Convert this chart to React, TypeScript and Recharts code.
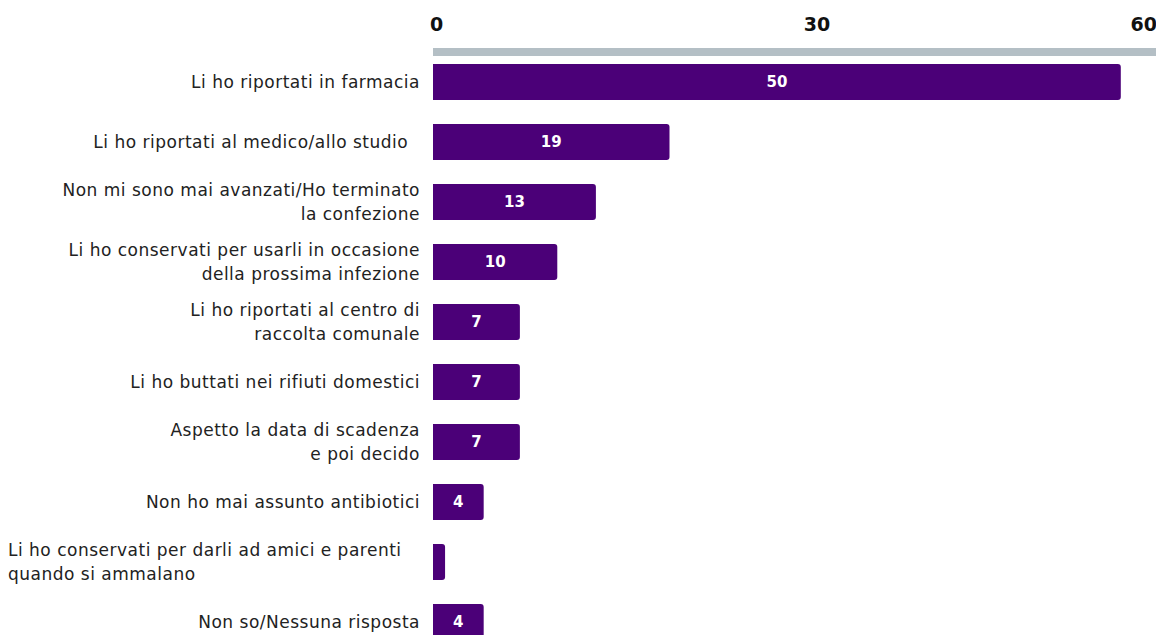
import { BarChart, Bar, XAxis, YAxis, LabelList } from "recharts";

const categories = [
  "Li ho riportati in farmacia",
  "Li ho riportati al medico/allo studio\u00a0\u00a0",
  "Non mi sono mai avanzati/Ho terminato\nla confezione",
  "Li ho conservati per usarli in occasione\ndella prossima infezione",
  "Li ho riportati al centro di\nraccolta comunale",
  "Li ho buttati nei rifiuti domestici",
  "Aspetto la data di scadenza\ne poi decido",
  "Non ho mai assunto antibiotici",
  "Li ho conservati per darli ad amici e parenti\nquando si ammalano",
  "Non so/Nessuna risposta",
];

// bar lengths as drawn (the printed labels differ slightly)
const barValues = [57, 19.6, 13.5, 10.3, 7.2, 7.2, 7.2, 4.2, 1, 4.2];
const valueLabels = ["50", "19", "13", "10", "7", "7", "7", "4", "", "4"];
const xTicks = [0, 30, 60];

const data = categories.map((name, i) => ({
  name,
  value: barValues[i],
  label: valueLabels[i],
}));

const BAR_COLOR = "#4B0078";
const LEFT_ALIGNED = new Set([8]);
const LABEL_FONT = "'DejaVu Sans', Verdana, sans-serif";

const CategoryTick = ({ x, y, payload, index }: any) => {
  const lines = String(payload.value).split("\n");
  const left = LEFT_ALIGNED.has(index);
  const tx = left ? 0 : x;
  return (
    <text
      x={tx}
      y={y}
      textAnchor={left ? "start" : "end"}
      fontFamily={LABEL_FONT}
      fontSize={17}
      letterSpacing={0.5}
      fill="#222"
    >
      {lines.map((line, i) => (
        <tspan key={i} x={tx} y={y + (i - (lines.length - 1) / 2) * 24 + 6}>
          {line}
        </tspan>
      ))}
    </text>
  );
};

const ValueTick = ({ x, payload, index }: any) => {
  const last = index === xTicks.length - 1;
  const anchor = index === 0 ? "start" : last ? "end" : "middle";
  const dx = index === 0 ? -3 : last ? 0 : 22;
  return (
    <text
      x={x + dx}
      y={23}
      textAnchor={anchor}
      fontFamily={LABEL_FONT}
      fontWeight="bold"
      fontSize={19}
      fill="#111"
    >
      {payload.value}
    </text>
  );
};

export default function App() {
  return (
    <div style={{ width: 1156, height: 650 }}>
      <BarChart
        width={1156}
        height={650}
        data={data}
        layout="vertical"
        margin={{ top: 0, right: 7, bottom: 6, left: 0 }}
      >
        <XAxis
          type="number"
          orientation="top"
          domain={[0, 60]}
          ticks={xTicks}
          height={44}
          tickLine={false}
          axisLine={{ stroke: "#b4bfc5", strokeWidth: 8 }}
          tick={<ValueTick />}
          interval={0}
        />
        <YAxis
          type="category"
          dataKey="name"
          width={425}
          tickLine={false}
          axisLine={false}
          tickSize={0}
          tickMargin={13}
          interval={0}
          tick={<CategoryTick />}
        />
        <Bar dataKey="value" fill={BAR_COLOR} barSize={36} radius={[0, 3, 3, 0]} isAnimationActive={false}>
          <LabelList
            dataKey="label"
            position="center"
            fill="#fff"
            fontFamily={LABEL_FONT}
            fontWeight="bold"
            fontSize={15}
          />
        </Bar>
      </BarChart>
    </div>
  );
}
